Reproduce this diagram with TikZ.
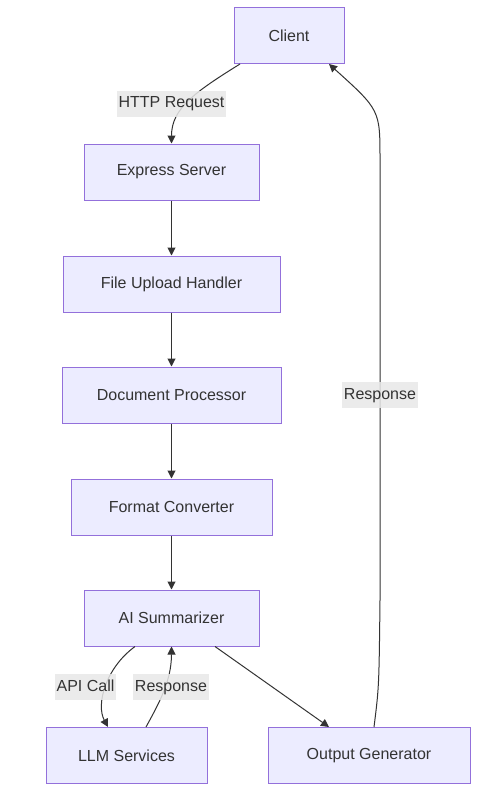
\documentclass[tikz,border=0pt]{standalone}
\usepackage{fontspec}
\setmainfont{Liberation Sans}
\usepackage{tikz}
\usetikzlibrary{arrows.meta}
\definecolor{nodeFill}{HTML}{ECECFF}
\definecolor{nodeLine}{HTML}{9370DB}
\definecolor{edgeGray}{HTML}{333333}
\definecolor{lblBg}{HTML}{E8E8E8}
\tikzset{
    stage/.style={draw=nodeLine, fill=nodeFill, line width=1pt, inner sep=0pt,
                  minimum height=56pt, text=edgeGray,
                  font=\fontsize{16}{19}\selectfont},
    flow/.style={draw=edgeGray, line width=1pt,
                 -{Triangle[length=8pt,width=8pt]}},
    flowlbl/.style={fill=lblBg, fill opacity=0.85, text opacity=1, text=edgeGray,
                    inner xsep=2pt, inner ysep=5pt, text height=12pt, text depth=4pt,
                    font=\fontsize{16}{19}\selectfont},
}

\begin{document}
\begin{tikzpicture}[x=1pt,y=-1pt]
\useasboundingbox (0,0) rectangle (492,797);

% ---------------- NODES ----------------
\node[stage, minimum width=110pt] (client)  at (289,35.5)   {Client};
\node[stage, minimum width=175pt] (express) at (171.5,172)  {Express Server};
\node[stage, minimum width=217pt] (upload)  at (171.5,284)  {File Upload Handler};
\node[stage, minimum width=219pt] (docproc) at (171.5,395)  {Document Processor};
\node[stage, minimum width=201pt] (convert) at (171.5,507)  {Format Converter};
\node[stage, minimum width=175pt] (summ)    at (171.5,618)  {AI Summarizer};
\node[stage, minimum width=161pt] (llm)     at (126.5,755.5) {LLM Services};
\node[stage, minimum width=202pt] (outgen)  at (369,755.5)  {Output Generator};

% ---------------- EDGES ----------------
% request into the server
\draw[flow] ([xshift=-49pt]client.south) .. controls +(-45,28) and +(0,-35) .. (express.north);
\node[flowlbl] (lblHttp) at (171.5,104) {HTTP Request};

% main chain
\draw[flow] (express) -- (upload);
\draw[flow] (upload)  -- (docproc);
\draw[flow] (docproc) -- (convert);
\draw[flow] (convert) -- (summ);

% summarizer <-> LLM
\draw[flow] ([xshift=-36.5pt]summ.south) .. controls +(-30,22) and +(-12,-22) .. ([xshift=-18.5pt]llm.north);
\draw[flow] ([xshift=19.5pt]llm.north) .. controls +(12,-22) and +(0,35) .. (summ.south);
\node[flowlbl] (lblApi)  at (85.5,687) {API Call};
\node[flowlbl] (lblResp) at (171,687)  {Response};

% summarizer -> output
\draw[flow] ([xshift=43.5pt]summ.south) -- ([xshift=-40pt]outgen.north);

% output back to client
\draw[flow] ([xshift=5pt]outgen.north) .. controls +(5,-40) .. (380,600)
    -- (380,160) .. controls (380,110) .. ([xshift=40pt]client.south);
\node[flowlbl] (lblBack) at (380,395) {Response};

\end{tikzpicture}
\end{document}
